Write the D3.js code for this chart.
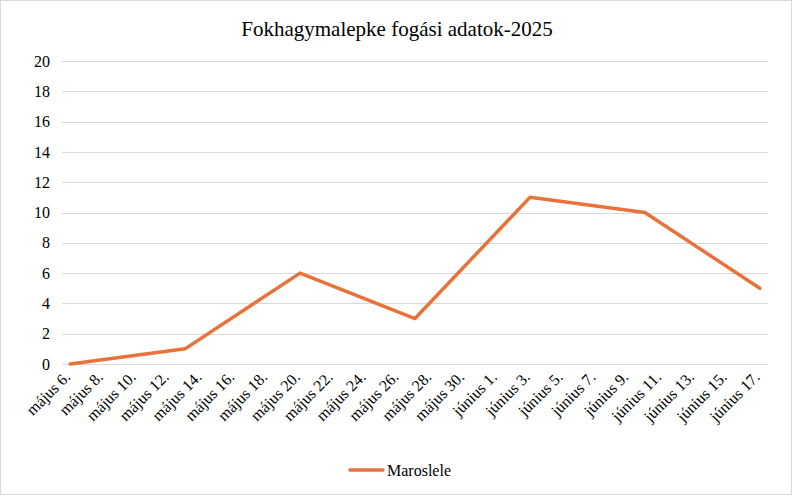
<!DOCTYPE html>
<html><head><meta charset="utf-8">
<script src="https://cdn.jsdelivr.net/npm/d3@7"></script>
<style>
html,body{margin:0;padding:0;background:#fff;}
svg{display:block;}
</style></head>
<body>
<svg id="chart" width="794" height="498"></svg>
<script>
const title = "Fokhagymalepke fogási adatok-2025";
const seriesName = "Maroslele";
const dates = ["2025-05-06","2025-05-13","2025-05-20","2025-05-27","2025-06-03","2025-06-10","2025-06-17"];
const values = [0, 1, 6, 3, 11, 10, 5];
const yTicks = [0,2,4,6,8,10,12,14,16,18,20];
const tickDates = ["2025-05-06","2025-05-08","2025-05-10","2025-05-12","2025-05-14","2025-05-16","2025-05-18","2025-05-20","2025-05-22","2025-05-24","2025-05-26","2025-05-28","2025-05-30","2025-06-01","2025-06-03","2025-06-05","2025-06-07","2025-06-09","2025-06-11","2025-06-13","2025-06-15","2025-06-17"];
const tickLabels = ["május 6.","május 8.","május 10.","május 12.","május 14.","május 16.","május 18.","május 20.","május 22.","május 24.","május 26.","május 28.","május 30.","június 1.","június 3.","június 5.","június 7.","június 9.","június 11.","június 13.","június 15.","június 17."];

const FONT = '"Liberation Serif", "Times New Roman", monospace';
const svg = d3.select("#chart");
const W = 794, H = 498;
const mLeft = 62, mRight = 768, mTop = 61, mBottom = 364;
const parse = d3.utcParse("%Y-%m-%d");

svg.append("rect").attr("x",0.5).attr("y",0.5).attr("width",W-3).attr("height",H-4)
  .attr("fill","#fff").attr("stroke","#d9d9d9");

const x = d3.scaleUtc()
  .domain([d3.utcHour.offset(parse(tickDates[0]), -12), d3.utcHour.offset(parse(tickDates[tickDates.length-1]), 12)])
  .range([mLeft, mRight]);
const y = d3.scaleLinear().domain([0,20]).range([mBottom, mTop]);

// grid
svg.append("g").selectAll("line").data(yTicks).join("line")
  .attr("x1", mLeft).attr("x2", mRight)
  .attr("y1", d=>Math.round(y(d))+0.5).attr("y2", d=>Math.round(y(d))+0.5)
  .attr("stroke","#d9d9d9").attr("stroke-width",1);

// y labels
svg.append("g").selectAll("text").data(yTicks).join("text")
  .attr("x", 50).attr("y", d=>y(d)).attr("dy","0.35em")
  .attr("text-anchor","end").style("font-size","16px").style("font-family",FONT).attr("fill","#000")
  .text(d=>d);

// x labels
svg.append("g").selectAll("text").data(tickDates).join("text")
  .attr("text-anchor","end").style("font-size","16px").style("font-family",FONT).attr("fill","#000")
  .attr("transform", (d)=>`translate(${x(parse(d))+1},${mBottom+14}) rotate(-45)`)
  .text((d,i)=>tickLabels[i]);

// line
const line = d3.line().x((d,i)=>x(parse(dates[i]))).y(d=>y(d));
svg.append("path").datum(values).attr("d", line)
  .attr("fill","none").attr("stroke","#e8733a").attr("stroke-width",3.5)
  .attr("stroke-linejoin","round").attr("stroke-linecap","round");

// title
svg.append("text").attr("x", 397).attr("y", 36).attr("text-anchor","middle")
  .style("font-size","21px").style("font-family",FONT).attr("fill","#000").text(title);

// legend
svg.append("line").attr("x1",350).attr("x2",383).attr("y1",470).attr("y2",470)
  .attr("stroke","#e8733a").attr("stroke-width",3.5).attr("stroke-linecap","round");
svg.append("text").attr("x",387).attr("y",470).attr("dy","0.35em")
  .style("font-size","16px").style("font-family",FONT).attr("fill","#000").text(seriesName);
</script>
</body></html>
